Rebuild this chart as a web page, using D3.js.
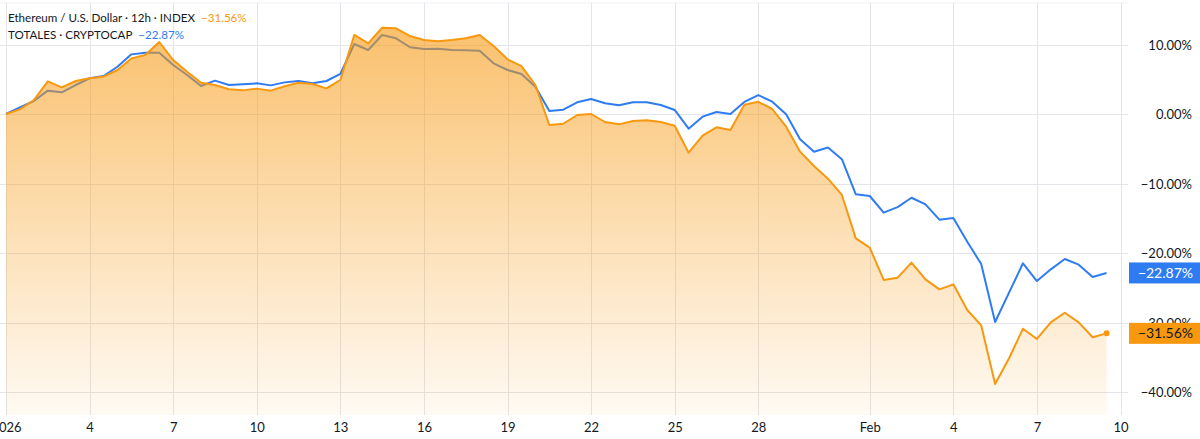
<!DOCTYPE html>
<html>
<head>
<meta charset="utf-8">
<script src="https://cdn.jsdelivr.net/npm/d3@7/dist/d3.min.js"></script>
<style>
  html, body { margin: 0; padding: 0; background: #ffffff; }
  svg { display: block; font-family: "Lato", "DejaVu Sans", sans-serif; }
</style>
</head>
<body>
<svg id="chart" width="1200" height="439"></svg>
<script>
// ---- Data (12h bars starting 2026-01-01 00:00 UTC), % change ----
const startDate = "2026-01-01T00:00:00Z";
const ethValues = [
  0, 0.67, 2.0, 4.7, 3.84, 4.75, 5.13, 5.37, 6.33, 8.0,
  8.49, 10.36, 7.77, 6.09, 4.5, 4.17, 3.55, 3.4, 3.65, 3.36,
  4.0, 4.5, 4.32, 3.69, 4.89, 11.37, 10.17, 12.42, 12.33, 11.22,
  10.65, 10.46, 10.65, 10.89, 11.37, 9.78, 7.87, 6.9, 4.17, -1.58,
  -1.4, -0.14, 0, -1.15, -1.49, -1.0, -0.91, -1.15, -1.68, -5.57,
  -3.12, -1.92, -2.3, 1.34, 1.75, 0.72, -1.82, -5.42, -7.48, -9.3,
  -11.65, -17.9, -19.23, -23.88, -23.55, -21.39, -23.79, -25.23, -24.51, -28.2,
  -30.41, -38.85, -35.15, -30.89, -32.37, -29.98, -28.59, -29.98, -32.13, -31.56
];
const totalValues = [
  0, 0.96, 1.87, 3.36, 3.12, 4.17, 5.13, 5.47, 6.8, 8.58,
  8.82, 8.82, 7.05, 5.61, 4.03, 4.8, 4.17, 4.27, 4.41, 4.12,
  4.55, 4.75, 4.41, 4.75, 5.76, 10.07, 9.21, 11.37, 10.89, 9.6,
  9.35, 9.4, 9.21, 9.16, 9.11, 7.29, 6.33, 5.76, 3.93, 0.43,
  0.62, 1.68, 2.16, 1.54, 1.25, 1.68, 1.68, 1.29, 0.58, -2.11,
  -0.38, 0.29, 0, 1.73, 2.73, 1.77, -0.05, -3.62, -5.42, -4.82,
  -6.5, -11.56, -11.8, -14.2, -13.4, -12.05, -13.0, -15.2, -14.98, -18.37,
  -21.58, -29.93, -25.71, -21.48, -24.03, -22.35, -20.86, -21.68, -23.45, -22.87
];
const xTickDates = ["2026-01-01","2026-01-04","2026-01-07","2026-01-10","2026-01-13","2026-01-16",
  "2026-01-19","2026-01-22","2026-01-25","2026-01-28","2026-02-01","2026-02-04","2026-02-07","2026-02-10"];
const xTickLabels = ["2026","4","7","10","13","16","19","22","25","28","Feb","4","7","10"];
const yTickValues = [10, 0, -10, -20, -30, -40];
const yTickLabels = ["10.00%", "0.00%", "\u221210.00%", "\u221220.00%", "\u221230.00%", "\u221240.00%"];
const legendNames = ["Ethereum / U.S. Dollar \u00b7 12h \u00b7 INDEX", "TOTALES \u00b7 CRYPTOCAP"];
const legendValues = ["\u221231.56%", "\u221222.87%"];

// ---- Layout ----
const W = 1200, H = 439;
const plotRight = 1128, plotTop = 3, plotBottom = 415;
const ORANGE = "#f7980f", BLUE = "#2f7cf2", TEXT = "#131722", GRID = "#e3e5ea";

const svg = d3.select("#chart");
const t0 = new Date(startDate).getTime();
const step = 12 * 3600 * 1000;
const eth = ethValues.map((v, i) => ({ d: new Date(t0 + i * step), v }));
const tot = totalValues.map((v, i) => ({ d: new Date(t0 + i * step), v }));

const x = d3.scaleUtc()
  .domain([new Date("2026-01-01T00:00:00Z"), new Date("2026-02-10T00:00:00Z")])
  .range([6, 1120.5]);
const y = d3.scaleLinear().domain([10, -40]).range([44.5, 392]);

const xTicks = xTickDates.map(s => new Date(s + "T00:00:00Z"));

// gradient
const defs = svg.append("defs");
const grad = defs.append("linearGradient").attr("id", "areaGrad")
  .attr("gradientUnits", "userSpaceOnUse")
  .attr("x1", 0).attr("x2", 0).attr("y1", 20).attr("y2", plotBottom);
grad.append("stop").attr("offset", "0%").attr("stop-color", ORANGE).attr("stop-opacity", 0.62);
grad.append("stop").attr("offset", "55%").attr("stop-color", ORANGE).attr("stop-opacity", 0.3);
grad.append("stop").attr("offset", "100%").attr("stop-color", ORANGE).attr("stop-opacity", 0.05);

// top border line
svg.append("line").attr("x1", 0).attr("x2", plotRight).attr("y1", plotTop).attr("y2", plotTop)
  .attr("stroke", "#eef0f3").attr("stroke-width", 1);

// gridlines
svg.append("g").selectAll("line").data(xTicks).join("line")
  .attr("x1", d => Math.round(x(d)) + 0.5).attr("x2", d => Math.round(x(d)) + 0.5)
  .attr("y1", plotTop).attr("y2", plotBottom)
  .attr("stroke", GRID).attr("stroke-width", 1);
svg.append("g").selectAll("line").data(yTickValues).join("line")
  .attr("x1", 0).attr("x2", plotRight)
  .attr("y1", d => Math.round(y(d)) + 0.5).attr("y2", d => Math.round(y(d)) + 0.5)
  .attr("stroke", GRID).attr("stroke-width", 1);

// lines
const line = d3.line().x(d => x(d.d)).y(d => y(d.v));
const area = d3.area().x(d => x(d.d)).y0(plotBottom).y1(d => y(d.v));

svg.append("path").datum(tot).attr("d", line)
  .attr("fill", "none").attr("stroke", BLUE).attr("stroke-width", 2)
  .attr("stroke-linejoin", "round");
svg.append("path").datum(eth).attr("d", area).attr("fill", "url(#areaGrad)");
svg.append("path").datum(eth).attr("d", line)
  .attr("fill", "none").attr("stroke", ORANGE).attr("stroke-width", 2)
  .attr("stroke-linejoin", "round");
const last = eth[eth.length - 1];
svg.append("circle").attr("cx", x(last.d)).attr("cy", y(last.v)).attr("r", 3).attr("fill", ORANGE);

// x axis
const xAxis = d3.axisBottom(x).tickValues(xTicks)
  .tickFormat((d, i) => xTickLabels[i]).tickSize(0).tickPadding(0);
const gx = svg.append("g").attr("transform", `translate(0, ${plotBottom})`).call(xAxis);
gx.select(".domain").remove();
gx.selectAll("text").attr("y", 17).attr("dy", 0)
  .attr("font-size", 13).attr("fill", TEXT).attr("font-family", "Lato, 'DejaVu Sans', sans-serif");

// y axis
const yAxis = d3.axisRight(y).tickValues(yTickValues)
  .tickFormat((d, i) => yTickLabels[i]).tickSize(0).tickPadding(0);
const gy = svg.append("g").attr("transform", "translate(1192, 0)").call(yAxis);
gy.select(".domain").remove();
gy.selectAll("text").attr("x", 0).attr("text-anchor", "end").attr("dy", "0.35em")
  .attr("font-size", 13).attr("fill", TEXT).attr("font-family", "Lato, 'DejaVu Sans', sans-serif");

// badges
const badges = [
  { v: totalValues[totalValues.length - 1], label: legendValues[1], fill: BLUE, color: "#ffffff" },
  { v: ethValues[ethValues.length - 1], label: legendValues[0], fill: ORANGE, color: TEXT }
];
const bg = svg.append("g").selectAll("g").data(badges).join("g")
  .attr("transform", d => `translate(1129, ${y(d.v)})`);
bg.append("rect").attr("x", 0).attr("y", -10.5).attr("width", 71).attr("height", 21)
  .attr("fill", d => d.fill);
bg.append("text").attr("x", 64).attr("y", 0).attr("dy", "0.36em").attr("text-anchor", "end")
  .attr("font-size", 14).attr("fill", d => d.color).text(d => d.label);

// legend
const lg = svg.append("g").attr("font-size", 11.6).attr("fill", TEXT);
const legendColors = [ORANGE, BLUE];
legendNames.forEach((name, i) => {
  const t = lg.append("text").attr("x", 8).attr("y", 22 + i * 17);
  t.append("tspan").text(name);
  t.append("tspan").attr("dx", 6).attr("fill", legendColors[i]).text(legendValues[i]);
});
</script>
</body>
</html>
